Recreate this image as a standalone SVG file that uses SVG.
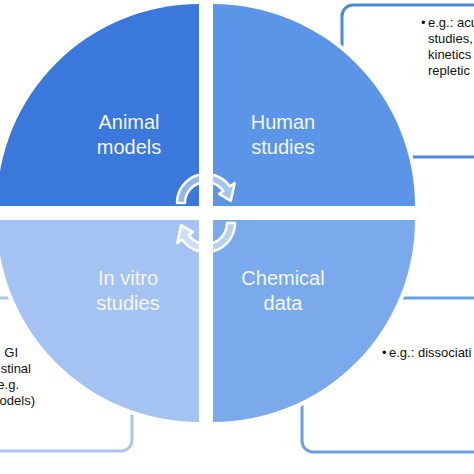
<svg xmlns="http://www.w3.org/2000/svg" width="474" height="474" viewBox="0 0 474 474">
<style>
.q{stroke:#fff;stroke-width:8;paint-order:stroke}
.ql{font-family:"Liberation Sans",Arial,sans-serif;font-size:20px;fill:#f4f7fd;text-anchor:middle}
.bt{font-family:"Liberation Sans",Arial,sans-serif;font-size:13px;fill:#111}
.box{fill:#fff;stroke-width:3}
.arr{fill:rgba(255,255,255,0.45);stroke:#fff;stroke-width:2.5;stroke-linejoin:round}
</style>
<rect width="474" height="474" fill="#fff"/>
<g id="box-human">
<rect class="box" x="342" y="5" width="260" height="152" rx="11" stroke="#4c88e0"/>
<text class="bt" x="421" y="27">•</text>
<text class="bt" x="428" y="27">e.g.: acu</text>
<text class="bt" x="428" y="43">studies,</text>
<text class="bt" x="428" y="59">kinetics</text>
<text class="bt" x="428" y="75">repletic</text>
</g>
<g id="box-invitro">
<rect class="box" x="-120" y="298" width="252" height="153" rx="11" stroke="#a8c6f2"/>
<text class="bt" text-anchor="end" x="18" y="357">GI</text>
<text class="bt" text-anchor="end" x="31" y="373">stinal</text>
<text class="bt" text-anchor="end" x="19" y="389">e.g.</text>
<text class="bt" text-anchor="end" x="35" y="405">odels)</text>
</g>
<g id="box-chemical">
<rect class="box" x="302" y="298" width="300" height="154" rx="11" stroke="#6a9fe8"/>
<text class="bt" x="382" y="357">•</text>
<text class="bt" x="389" y="357">e.g.: dissociati</text>
</g>
<g id="animal-models">
<path class="q" fill="#3b78dc" d="M199,206 L-3,206 A202,202 0 0 1 199,4 Z"/>
<text class="ql" x="129" y="129">Animal</text>
<text class="ql" x="129" y="154">models</text>
</g>
<g id="human-studies">
<path class="q" fill="#5b95e8" d="M213,206 L213,4 A202,202 0 0 1 415,206 Z"/>
<text class="ql" x="283" y="129">Human</text>
<text class="ql" x="283" y="154">studies</text>
</g>
<g id="chemical-data">
<path class="q" fill="#7aa9ec" d="M213,220 L415,220 A202,202 0 0 1 213,422 Z"/>
<text class="ql" x="283" y="285">Chemical</text>
<text class="ql" x="283" y="310">data</text>
</g>
<g id="in-vitro-studies">
<path class="q" fill="#a4c3f2" d="M199,220 L199,422 A202,202 0 0 1 -3,220 Z"/>
<text class="ql" x="128" y="285">In vitro</text>
<text class="ql" x="128" y="310">studies</text>
</g>
<g id="connectors">
<path id="cyc" class="arr" d="M177,203 A29,29 0 0 1 229.8,186.4 L234.7,182.9 L230.9,200.8 L219.1,193.8 L223.2,191 A21,21 0 0 0 185,203 Z"/>
<path class="arr" transform="rotate(180 206 213)" d="M177,203 A29,29 0 0 1 229.8,186.4 L234.7,182.9 L230.9,200.8 L219.1,193.8 L223.2,191 A21,21 0 0 0 185,203 Z"/>
</g>
</svg>
